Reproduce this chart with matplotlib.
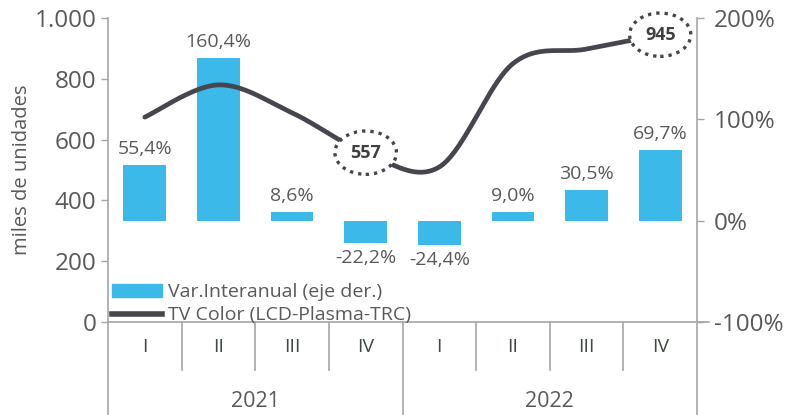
import numpy as np
import matplotlib.pyplot as plt
from matplotlib.patches import Patch
from matplotlib.lines import Line2D

plt.rcParams['font.family'] = ['Open Sans', 'DejaVu Sans']

# Data
quarters = ["I", "II", "III", "IV", "I", "II", "III", "IV"]
years = ["2021", "2022"]
tv_color = [674, 780, 688, 557, 510, 850, 898, 945]          # miles de unidades
var_interanual = [55.4, 160.4, 8.6, -22.2, -24.4, 9.0, 30.5, 69.7]  # %
highlight = {3: "557", 7: "945"}

bar_color = "#3BB9E8"
line_color = "#45464E"
axis_color = "#A6A6A6"
text_color = "#595959"

fig = plt.figure(figsize=(7.92, 4.15), dpi=100)
ax = fig.add_axes([108 / 792, 1 - 322 / 415, (697 - 108) / 792, 304 / 415])
ax2 = ax.twinx()
ax.set_zorder(ax2.get_zorder() + 1)
ax.patch.set_visible(False)

x = np.arange(len(quarters))

# Bars on right axis
ax2.bar(x, var_interanual, width=0.58, color=bar_color)
ax2.set_ylim(-100, 200)
ax2.set_yticks([-100, 0, 100, 200])
ax2.set_yticklabels(["-100%", "0%", "100%", "200%"])
for xi, v in zip(x, var_interanual):
    lbl = f"{v:.1f}%".replace(".", ",")
    if v >= 0:
        ax2.annotate(lbl, (xi, v), xytext=(0, 5), textcoords="offset points",
                     ha="center", va="bottom", fontsize=14, color=text_color)
    else:
        ax2.annotate(lbl, (xi, v), xytext=(0, -4), textcoords="offset points",
                     ha="center", va="top", fontsize=14, color=text_color)

# Smoothed line (Excel-style Bezier through the points)
px = np.concatenate([[x[0]], x, [x[-1]]]).astype(float)
py = np.concatenate([[tv_color[0]], tv_color, [tv_color[-1]]]).astype(float)
cx, cy = [], []
t = np.linspace(0, 1, 40)
for i in range(1, len(px) - 2):
    p0 = np.array([px[i], py[i]])
    p3 = np.array([px[i + 1], py[i + 1]])
    c1 = p0 + (np.array([px[i + 1], py[i + 1]]) - np.array([px[i - 1], py[i - 1]])) / 6
    c2 = p3 - (np.array([px[i + 2], py[i + 2]]) - np.array([px[i], py[i]])) / 6
    b = ((1 - t) ** 3)[:, None] * p0 + (3 * (1 - t) ** 2 * t)[:, None] * c1 \
        + (3 * (1 - t) * t ** 2)[:, None] * c2 + (t ** 3)[:, None] * p3
    cx.extend(b[:, 0])
    cy.extend(b[:, 1])
ax.plot(cx, cy, color=line_color, lw=3.4, solid_capstyle="round")

for i, lbl in highlight.items():
    ax.text(x[i], tv_color[i], lbl, ha="center", va="center", fontsize=13,
            fontweight="bold", color="#404040", zorder=5,
            bbox=dict(boxstyle="ellipse,pad=0.35", fc="white", ec=line_color,
                      lw=2.4, ls=(0, (1, 1.5))))

ax.set_xlim(-0.5, len(quarters) - 0.5)
ax2.set_xlim(-0.5, len(quarters) - 0.5)
ax.set_ylim(0, 1000)
ax.set_yticks(np.arange(0, 1001, 200))
ax.set_yticklabels(["0", "200", "400", "600", "800", "1.000"])
ax.set_ylabel("miles de unidades", fontsize=14.5, color=text_color, labelpad=2)

for a in (ax, ax2):
    for s in a.spines.values():
        s.set_visible(False)
    a.tick_params(axis="y", colors=axis_color, labelcolor=text_color,
                  labelsize=17.5, length=5, width=1)
    a.set_xticks([])
ax2.tick_params(axis="y", pad=7)

# Axis lines and category separators
kw = dict(color=axis_color, lw=1.2, clip_on=False, transform=ax.transAxes)
ax.plot([0, 0], [1, -0.31], **kw)
ax.plot([1, 1], [1, -0.31], **kw)
ax.plot([0, 1.02], [0, 0], **kw)
ax.plot([0.5, 0.5], [0, -0.31], **kw)
n = len(quarters)
for k in range(1, n):
    if k != n // 2:
        ax.plot([k / n, k / n], [0, -0.158], **kw)
for k, q in enumerate(quarters):
    ax.text((k + 0.5) / n, -0.082, q, transform=ax.transAxes, ha="center",
            va="center", fontsize=14, color="#3E4A40")
for k, yr in enumerate(years):
    ax.text(0.25 + 0.5 * k, -0.263, yr, transform=ax.transAxes, ha="center",
            va="center", fontsize=15.5, color=text_color)

handles = [Patch(color=bar_color), Line2D([], [], color=line_color, lw=4)]
ax.legend(handles, ["Var.Interanual (eje der.)", "TV Color (LCD-Plasma-TRC)"],
          loc="lower left", bbox_to_anchor=(0.0, -0.02), frameon=False,
          fontsize=14, labelcolor=text_color, handlelength=2.6,
          handleheight=0.6, handletextpad=0.3, labelspacing=0.25,
          borderaxespad=0, borderpad=0.2)

fig.savefig("out.png", dpi=100)
